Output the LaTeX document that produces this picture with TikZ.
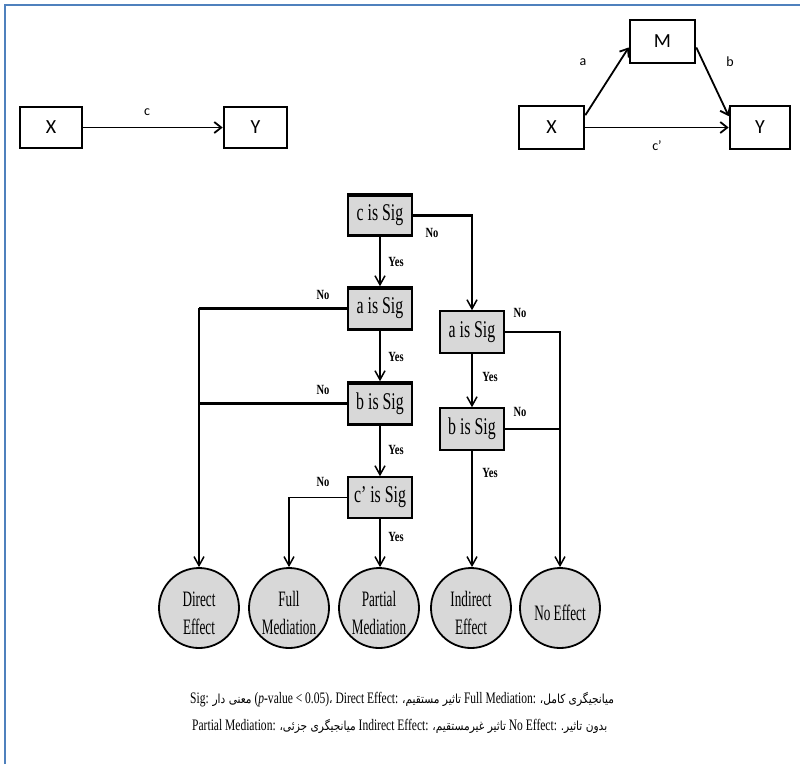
\documentclass[tikz,border=0pt]{standalone}
\usepackage{fontspec}
\usetikzlibrary{arrows.meta,calc}
\TeXXeTstate=1
\setmainfont{Liberation Serif}
\newfontfamily\boxfont[FakeStretch=0.66]{Liberation Serif}
\newfontfamily\circfont[FakeStretch=0.6]{Liberation Serif}
\newfontfamily\ynfont[FakeStretch=0.75]{Liberation Serif}
\newfontfamily\calfont{Carlito}
\newfontfamily\capfont[FakeStretch=0.72]{Liberation Serif}
\newfontfamily\fafont[Script=Arabic,FakeStretch=0.85]{DejaVu Sans}
\newcommand\fatext[1]{{\fafont\fontsize{12.5}{14}\selectfont\beginR #1\endR}}
\newcommand\lowr{\rule{0pt}{26pt}}
\definecolor{frameblue}{RGB}{79,129,189}
\definecolor{boxgray}{RGB}{216,216,216}
\begin{document}
\begin{tikzpicture}[x=1pt,y=-1pt,
  sbox/.style={draw, line width=2.6pt, minimum width=62pt, minimum height=41pt, inner sep=0pt, font=\calfont\fontsize{20}{22}\selectfont},
  plab/.style={inner sep=0pt, font=\calfont\fontsize{14}{16}\selectfont},
  sarrow/.style={line width=1.8pt, -{Straight Barb[length=7pt,width=11pt,line width=1.8pt]}},
  gbox/.style={draw, fill=boxgray, line width=1.5pt, minimum width=64pt, minimum height=42pt, inner sep=0pt, font=\boxfont\fontsize{24}{26}\selectfont},
  tbbox/.style={gbox, path picture={\draw[line width=5pt] (path picture bounding box.north west) -- (path picture bounding box.north east) (path picture bounding box.south west) -- (path picture bounding box.south east);}},
  circ/.style={circle, draw, fill=boxgray, line width=1.8pt, minimum size=80pt, inner sep=0pt, align=center, font=\circfont\fontsize{22}{28}\selectfont},
  yn/.style={inner sep=0pt, font=\ynfont\bfseries\fontsize{14}{16}\selectfont},
  fl/.style={line width=1.6pt},
  fa/.style={fl, -{Straight Barb[length=9pt,width=10pt,line width=1.5pt]}},
  thk/.style={line width=3pt},
  captext/.style={inner sep=0pt, font=\capfont\fontsize{16}{18}\selectfont}
]
\useasboundingbox (0,0) rectangle (800,764);
\fill[white] (0,0) rectangle (800,764);
\draw[frameblue, line width=2.2pt] (5,764) -- (5,5) -- (800,5);

% top-left model
\node[sbox] (X1) at (51,127.5) {X};
\node[sbox, minimum width=63pt] (Y1) at (255.5,127.5) {Y};
\draw[sarrow] (X1) -- (Y1);
\node[plab] (lc) at (147,112) {c};

% top-right model
\node[sbox, minimum width=65pt, minimum height=43pt] (X2) at (551.5,127.5) {X};
\node[sbox, minimum width=65pt, minimum height=43pt] (M) at (662.5,41.5) {M};
\node[sbox, minimum width=60pt, minimum height=43pt] (Y2) at (760,127.5) {Y};
\draw[sarrow] (X2.20) -- (M.190);
\draw[sarrow] (M.-10) -- (Y2.160);
\draw[sarrow] (X2) -- (Y2);
\node[plab] (la) at (583,62) {a};
\node[plab] (lb) at (730,62) {b};
\node[plab] (lcp) at (657,146) {c’};

% decision boxes
\node[tbbox] (c) at (380,215) {c is Sig};
\node[tbbox, minimum height=43pt] (aL) at (380,308.5) {a is Sig};
\node[tbbox, minimum height=43pt] (bL) at (380,403.5) {b is Sig};
\node[gbox, minimum height=41pt] (cp) at (380,497.5) {c’ is Sig};
\node[gbox] (aR) at (472,332) {a is Sig};
\node[gbox] (bR) at (472,429) {b is Sig};

% outcomes
\node[circ] (DE) at (199,608) {\lowr Direct\\Effect};
\node[circ] (FM) at (289,608) {\lowr Full\\Mediation};
\node[circ] (PM) at (379,608) {\lowr Partial\\Mediation};
\node[circ] (IE) at (471,608) {\lowr Indirect\\Effect};
\node[circ] (NE) at (560,608) {\lowr No Effect};

% connectors
\draw[fa] (c) -- (aL);
\draw[fa] (c.east) -| (aR.north);
\draw[thk] (c.east) -- (c.east -| aR.north);
\draw[fa] (aL.west) -| (DE.north);
\draw[thk] (aL.west) -- (aL.west -| DE.north);
\draw[thk] (bL.west) -- (bL.west -| DE.north);
\draw[fa] (aL) -- (bL);
\draw[fa] (bL) -- (cp);
\draw[fa] (cp.west) -| (FM.north);
\draw[fa] (cp.south) -- (cp.south |- PM.north);
\draw[fa] (aR) -- (bR);
\draw[fa] (bR.south) -- (bR.south |- IE.north);
\draw[fa] (aR.east) -| (NE.north);
\draw[fl] (bR.east) -- (bR.east -| NE.north);

% yes / no labels
\node[yn] (y1) at (396,262) {Yes};
\node[yn] (n1) at (432,233) {No};
\node[yn] (n2) at (323,295) {No};
\node[yn] (y2) at (396,357) {Yes};
\node[yn] (n3) at (323,390) {No};
\node[yn] (y3) at (396,450) {Yes};
\node[yn] (n4) at (323,482) {No};
\node[yn] (y4) at (396,537) {Yes};
\node[yn] (n5) at (520,313) {No};
\node[yn] (y5) at (490,377) {Yes};
\node[yn] (n6) at (520,412) {No};
\node[yn] (y6) at (490,473) {Yes};

% caption
\node[captext, anchor=base west] (cap1) at (190,703) {Sig: \fatext{معنی دار} (\textit{p}-value < 0.05)\fatext{،} Direct Effect: \fatext{تاثیر مستقیم،} Full Mediation: \fatext{میانجیگری کامل،}};
\node[captext, anchor=base west] (cap2) at (192,730) {Partial Mediation: \fatext{میانجیگری جزئی،} Indirect Effect: \fatext{تاثیر غیرمستقیم،} No Effect: \fatext{بدون تاثیر.}};
\end{tikzpicture}
\end{document}
